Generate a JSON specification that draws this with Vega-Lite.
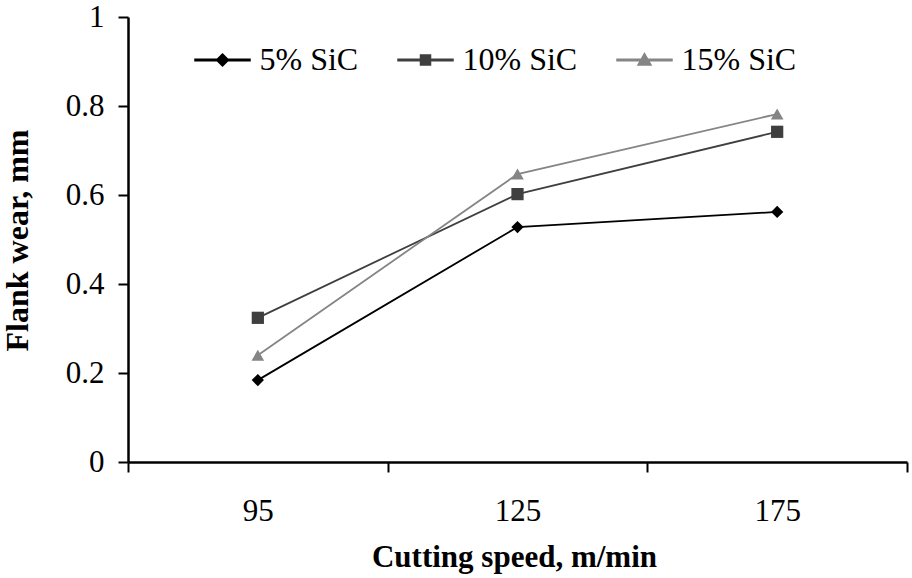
{
  "$schema": "https://vega.github.io/schema/vega-lite/v6.json",
  "width": 779,
  "height": 445,
  "autosize": {"type": "none"},
  "padding": {"left": 128, "top": 17, "right": 5, "bottom": 116},
  "background": "white",
  "config": {
    "view": {"stroke": null},
    "font": "Liberation Serif"
  },
  "data": {
    "values": [
      {"speed": 95, "series": "5% SiC", "wear": 0.184},
      {"speed": 125, "series": "5% SiC", "wear": 0.528},
      {"speed": 175, "series": "5% SiC", "wear": 0.562},
      {"speed": 95, "series": "10% SiC", "wear": 0.324},
      {"speed": 125, "series": "10% SiC", "wear": 0.602},
      {"speed": 175, "series": "10% SiC", "wear": 0.742},
      {"speed": 95, "series": "15% SiC", "wear": 0.24},
      {"speed": 125, "series": "15% SiC", "wear": 0.647},
      {"speed": 175, "series": "15% SiC", "wear": 0.782}
    ]
  },
  "encoding": {
    "x": {
      "field": "speed",
      "type": "ordinal",
      "bandPosition": 0.5,
      "scale": {"type": "band", "paddingInner": 0, "paddingOuter": 0},
      "axis": {
        "title": "Cutting speed, m/min",
        "labelAngle": 0,
        "tickBand": "extent",
        "grid": false,
        "domainColor": "black",
        "domainWidth": 2.5,
        "tickColor": "black",
        "tickWidth": 2,
        "tickSize": 10,
        "labelFontSize": 31,
        "labelColor": "black",
        "labelBaseline": "alphabetic",
        "labelPadding": 48,
        "titleFontSize": 31,
        "titleFontWeight": "bold",
        "titleColor": "black",
        "titleBaseline": "alphabetic",
        "titleAlign": "center",
        "titleX": 386,
        "titleY": 104
      }
    },
    "y": {
      "field": "wear",
      "type": "quantitative",
      "scale": {"domain": [0, 1], "nice": false},
      "axis": {
        "values": [0, 0.2, 0.4, 0.6, 0.8, 1],
        "format": ".1~f",
        "title": "Flank wear, mm",
        "grid": false,
        "domainColor": "black",
        "domainWidth": 2.5,
        "tickColor": "black",
        "tickWidth": 2,
        "tickSize": 10,
        "labelFontSize": 31,
        "labelColor": "black",
        "labelPadding": 14,
        "titleFontSize": 32,
        "titleFontWeight": "bold",
        "titleColor": "black",
        "titleAngle": -90,
        "titleBaseline": "middle",
        "titleAlign": "center",
        "titleX": -111,
        "titleY": 223
      }
    },
    "color": {
      "field": "series",
      "type": "nominal",
      "sort": ["5% SiC", "10% SiC", "15% SiC"],
      "scale": {
        "domain": ["5% SiC", "10% SiC", "15% SiC"],
        "range": ["#000000", "#3f3f3f", "#858585"]
      },
      "legend": {
        "orient": "none",
        "legendX": 67,
        "legendY": 27,
        "direction": "horizontal",
        "title": null,
        "padding": 0,
        "labelFontSize": 32,
        "labelColor": "black",
        "labelLimit": 0,
        "symbolSize": 100,
        "symbolStrokeWidth": 1.5,
        "symbolOffset": 11.5,
        "labelOffset": 21,
        "columnPadding": 36,
        "encoding": {
          "symbols": {
            "shape": {"value": {"expr": "datum.value === '5% SiC' ? 'M-5.5,-0.17H5.5V0.17H-5.5ZM0,-1.2L1.2,0L0,1.2L-1.2,0Z' : datum.value === '10% SiC' ? 'M-5.5,-0.17H5.5V0.17H-5.5ZM-1,-1H1V1H-1Z' : 'M-5.5,-0.17H5.5V0.17H-5.5ZM0,-1.3L1.3,1L-1.3,1Z'"}},
            "fill": {"value": {"expr": "datum.value === '5% SiC' ? '#000000' : datum.value === '10% SiC' ? '#3f3f3f' : '#858585'"}},
            "stroke": {"value": {"expr": "datum.value === '5% SiC' ? '#000000' : datum.value === '10% SiC' ? '#3f3f3f' : '#858585'"}},
            "strokeWidth": {"value": 1.5},
            "opacity": {"value": 1}
          }
        }
      }
    }
  },
  "layer": [
    {"mark": {"type": "line", "strokeWidth": 1.8}},
    {
      "transform": [{"filter": "datum.series === '5% SiC'"}],
      "mark": {"type": "point", "filled": true, "opacity": 1, "size": 150, "shape": "diamond"}
    },
    {
      "transform": [{"filter": "datum.series === '10% SiC'"}],
      "mark": {"type": "point", "filled": true, "opacity": 1, "size": 150, "shape": "square"}
    },
    {
      "transform": [{"filter": "datum.series === '15% SiC'"}],
      "mark": {"type": "point", "filled": true, "opacity": 1, "size": 160, "shape": "triangle-up"}
    }
  ]
}
